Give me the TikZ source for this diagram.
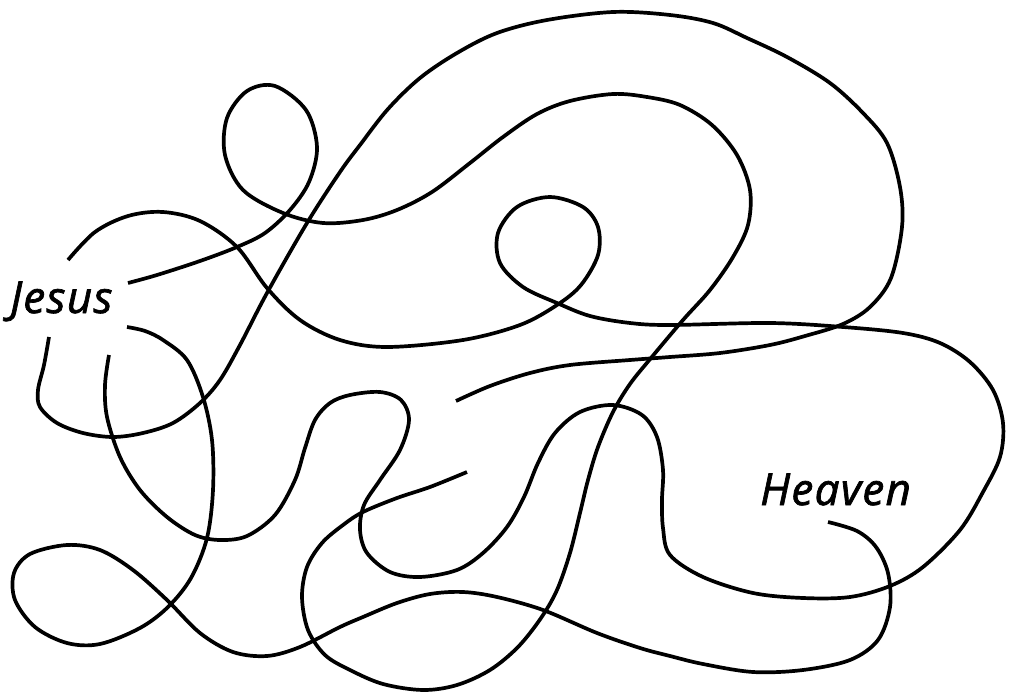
\documentclass[tikz,border=0pt]{standalone}
\usepackage{fontspec}
\setmainfont{Open Sans}
\newfontfamily\labfont{Open Sans}[FakeBold=1.6, LetterSpace=3]
\begin{document}
\begin{tikzpicture}[x=1pt,y=-1pt,
  strand/.style={line width=3.7pt, black, line join=round},
  label/.style={font=\labfont\fontsize{44}{44}\selectfont\itshape, inner sep=0pt, anchor=base west}]
\useasboundingbox (0,0) rectangle (1013,693);
\node[label] (jesus) at (10,313) {Jesus};
\node[label] (heaven) at (760,505) {Heaven};
% strand A (returns to start)
\coordinate (a1) at (68,260);
\coordinate (a2) at (109,355);
\draw[strand] plot[smooth, tension=0.55] coordinates {
(68,260) (95,232) (128,216) (163,212) (200,221) (237,247) (267,288) (300,320) (340,340) (387,347) (463,340) (520,325) (557,305) (581,285) (598,255) (598,227) (583,207) (550,197) (517,207) (498,233) (500,263) (523,287) (557,303) (590,316) (630,323) (670,325) (770,323) (843,327) (903,333) (940,343) (970,362) (993,390) (1003,423) (1000,457) (983,492) (960,530) (923,567) (890,586) (850,597) (803,598) (753,593) (703,577) (670,555) (663,528) (662,500) (663,470) (657,437) (642,415) (613,405) (580,412) (555,433) (538,463) (524,497) (507,527) (483,553) (457,570) (420,577) (390,572) (367,553) (360,530) (364,505) (380,480) (400,450) (409,420) (401,400) (380,392) (350,395) (330,403) (315,420) (305,448) (295,480) (275,515) (247,536) (220,540) (195,535) (167,517) (140,490) (120,457) (107,417) (105,385) (109,355)};
% strand B (dead end)
\coordinate (b2) at (467,472);
\draw[strand] plot[smooth, tension=0.55] coordinates {
(128,283) (157,275) (200,261) (237,247) (265,233) (290,210) (309,182) (317,147) (306,110) (275,86) (247,91) (227,118) (225,155) (243,190) (283,213) (323,223) (363,220) (397,210) (432,192) (470,163) (503,137) (537,114) (570,101) (613,94) (647,97) (680,105) (712,125) (737,155) (750,190) (748,225) (733,257) (710,290) (683,320) (651,358) (630,384) (613,412) (598,447) (588,480) (580,513) (570,553) (557,590) (541,618) (518,647) (490,670) (457,685) (423,690) (383,684) (350,670) (325,655) (308,630) (302,597) (307,567) (322,543) (343,525) (363,512) (397,498) (430,487) (467,472)};
% strand C (to Heaven)
\coordinate (c2) at (828,522);
\draw[strand] plot[smooth, tension=0.55] coordinates {
(127,327) (145,331) (163,340) (187,360) (203,397) (212,440) (213,490) (207,538) (191,578) (168,607) (140,628) (100,644) (67,643) (35,627) (15,600) (14,573) (30,554) (67,545) (100,550) (133,570) (167,600) (200,633) (233,652) (267,656) (300,647) (340,627) (363,617) (397,603) (430,594) (463,592) (497,597) (543,610) (597,633) (640,648) (670,656) (703,664) (753,672) (803,670) (850,660) (878,640) (890,607) (888,573) (876,547) (857,531) (828,522)};
% strand D (dead end)
\coordinate (d2) at (456,401);
\draw[strand] plot[smooth, tension=0.55] coordinates {
(49,337) (44,365) (38,390) (40,407) (57,423) (83,433) (113,437) (143,433) (173,423) (200,403) (220,380) (240,345) (267,293) (307,223) (340,172) (360,145) (388,109) (420,78) (457,53) (497,33) (547,20) (613,12) (670,15) (713,23) (747,38) (787,57) (830,83) (863,113) (887,143) (900,187) (902,227) (891,278) (870,307) (843,324) (805,336) (770,345) (720,353) (670,357) (630,360) (570,365) (530,373) (490,386) (456,401)};
\end{tikzpicture}
\end{document}
